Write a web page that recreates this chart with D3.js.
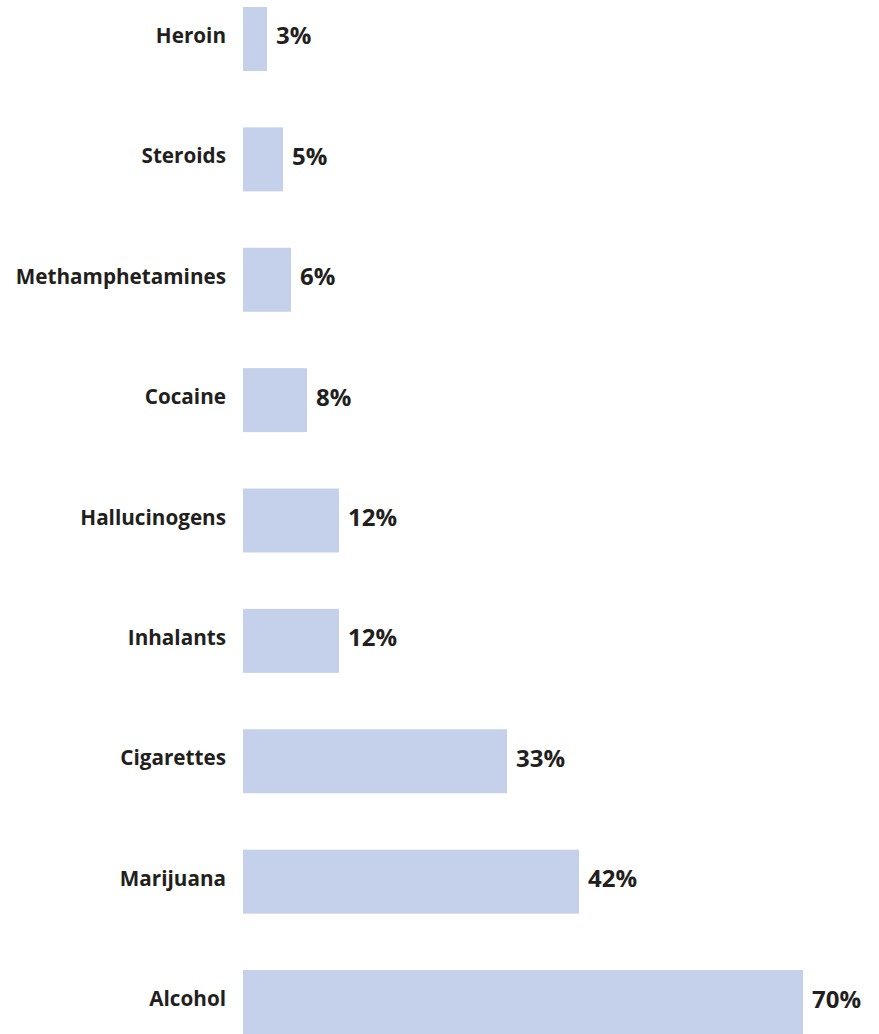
<!DOCTYPE html>
<html>
<head>
<meta charset="utf-8">
<script src="https://cdn.jsdelivr.net/npm/d3@7"></script>
<style>
  body { margin: 0; background: #fff; }
  text { font-family: "Open Sans", sans-serif; fill: #231f20; }
</style>
</head>
<body>
<div id="chart"></div>
<script>
// data
var substances = ["Heroin", "Steroids", "Methamphetamines", "Cocaine", "Hallucinogens",
                  "Inhalants", "Cigarettes", "Marijuana", "Alcohol"];
var percents = [3, 5, 6, 8, 12, 12, 33, 42, 70];

var data = substances.map(function(d, i) { return {name: d, value: percents[i]}; });

var width = 879, height = 1034;
var margin = {top: 7, left: 243, bottom: 0};

var svg = d3.select("#chart")
  .append("svg")
  .attr("width", width)
  .attr("height", height);

// 8px per percent
var x = d3.scaleLinear()
  .domain([0, 70])
  .range([margin.left, 803]);

var y = d3.scaleBand()
  .domain(substances)
  .range([margin.top, height - margin.bottom])
  .paddingInner(0.4684)
  .paddingOuter(0);

svg.selectAll("rect.bar")
  .data(data)
  .enter()
  .append("rect")
  .attr("class", "bar")
  .attr("x", x(0))
  .attr("y", function(d) { return y(d.name); })
  .attr("width", function(d) { return x(d.value) - x(0); })
  .attr("height", y.bandwidth())
  .attr("fill", "#c5d0ea");

// category labels
svg.selectAll("text.cat")
  .data(data)
  .enter()
  .append("text")
  .attr("class", "cat")
  .attr("x", 226)
  .attr("y", function(d) { return y(d.name) + y.bandwidth() / 2 + 4; })
  .attr("text-anchor", "end")
  .style("font-size", "20.7px")
  .style("font-weight", 700)
  .text(function(d) { return d.name; });

// value labels
svg.selectAll("text.val")
  .data(data)
  .enter()
  .append("text")
  .attr("class", "val")
  .attr("x", function(d) { return x(d.value) + 9; })
  .attr("y", function(d) { return y(d.name) + y.bandwidth() / 2 + 5.5; })
  .style("font-size", "24px")
  .style("font-weight", 700)
  .text(function(d) { return d.value + "%"; });
</script>
</body>
</html>
